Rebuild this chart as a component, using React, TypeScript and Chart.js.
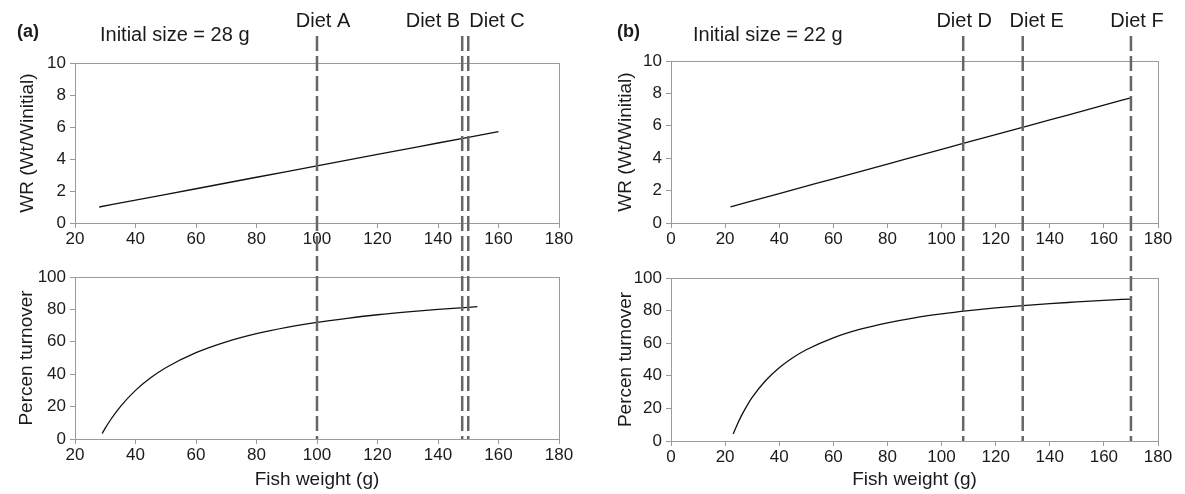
import React, { useEffect, useRef } from "react";
import { Chart, registerables } from "chart.js";

Chart.register(...registerables);

// ---------- data ----------
// Panel (a): initial size 28 g
const aWrWeights = [28, 40, 60, 80, 100, 120, 140, 160];
const aWrValues = [1.0, 1.43, 2.14, 2.86, 3.57, 4.29, 5.0, 5.71];
const aTurnWeights = [29, 30, 32, 35, 40, 45, 50, 60, 70, 80, 90, 100, 110, 120, 130, 140, 150, 153];
const aTurnValues = [3.4, 6.7, 12.5, 20, 30, 37.8, 44, 53.3, 60, 65, 68.9, 72, 74.5, 76.7, 78.5, 80, 81.3, 81.7];
const aDietLabels = ["Diet A", "Diet B", "Diet C"];
const aDietWeights = [100, 148, 150];

// Panel (b): initial size 22 g
const bWrWeights = [22, 40, 60, 80, 100, 120, 140, 160, 170];
const bWrValues = [1.0, 1.82, 2.73, 3.64, 4.55, 5.45, 6.36, 7.27, 7.73];
const bTurnWeights = [23, 24, 26, 28, 30, 35, 40, 45, 50, 60, 70, 80, 90, 100, 110, 120, 130, 140, 150, 160, 170];
const bTurnValues = [4.3, 8.3, 15.4, 21.4, 26.7, 37.1, 45, 51.1, 56, 63.3, 68.6, 72.5, 75.6, 78, 80, 81.7, 83.1, 84.3, 85.3, 86.3, 87.1];
const bDietLabels = ["Diet D", "Diet E", "Diet F"];
const bDietWeights = [108, 130, 170];

// x axis ranges / y ticks
const aXRange = [20, 180];
const bXRange = [0, 180];
const wrRange = [0, 10, 2];
const turnRange = [0, 100, 20];

// ---------- styling / layout (not data) ----------
const FONT = '"Liberation Sans", Arial, sans-serif';
const TEXT = "#1a1a1a";
const AXIS = "#9a9a9a";
const DASH = "#666666";
const DASH_PATTERN = [15, 5];
const DASH_TOP = 36;
const TICK_SIZE = 17;
const TITLE_SIZE = 19;
const NOTE_SIZE = 20;

const aDietAlign: CanvasTextAlign[] = ["center", "right", "left"];
const aDietShift = [6, -2, 1];
const bDietAlign: CanvasTextAlign[] = ["center", "center", "center"];
const bDietShift = [1, 14, 6];

type PanelOpts = {
  weights: number[];
  values: number[];
  xRange: number[];
  yRange: number[];
  yTitle: string;
  xTitle?: string;
  dietWeights: number[];
  dietLabels?: string[];
  dietAlign?: CanvasTextAlign[];
  dietShift?: number[];
  letter?: string;
  letterX?: number;
  initText?: string;
  initX?: number;
  isTop: boolean;
  yAxisWidth: number;
  xAxisHeight: number;
  padTop: number;
  padRight: number;
  yTitlePad: number;
};

function makeConfig(o: PanelOpts): any {
  const overlay = {
    id: "overlay",
    afterDatasetsDraw(chart: any) {
      const ctx = chart.ctx;
      const ca = chart.chartArea;
      const xs = chart.scales.x;
      ctx.save();
      // box
      ctx.strokeStyle = AXIS;
      ctx.lineWidth = 1;
      ctx.strokeRect(Math.round(ca.left) + 0.5, Math.round(ca.top) + 0.5, Math.round(ca.right - ca.left), Math.round(ca.bottom - ca.top));
      // dashed diet lines
      ctx.strokeStyle = DASH;
      ctx.lineWidth = 2.5;
      ctx.setLineDash(DASH_PATTERN);
      const period = DASH_PATTERN[0] + DASH_PATTERN[1];
      o.dietWeights.forEach((w) => {
        const px = xs.getPixelForValue(w);
        ctx.beginPath();
        if (o.isTop) {
          ctx.lineDashOffset = 0;
          ctx.moveTo(px, DASH_TOP);
          ctx.lineTo(px, chart.height);
        } else {
          ctx.lineDashOffset = (250 - DASH_TOP) % period;
          ctx.moveTo(px, 0);
          ctx.lineTo(px, ca.bottom);
        }
        ctx.stroke();
      });
      ctx.setLineDash([]);
      if (o.isTop) {
        ctx.fillStyle = TEXT;
        ctx.textBaseline = "middle";
        ctx.font = `bold 18px ${FONT}`;
        ctx.textAlign = "left";
        ctx.fillText(o.letter || "", o.letterX || 0, 32);
        ctx.font = `${NOTE_SIZE}px ${FONT}`;
        ctx.fillText(o.initText || "", o.initX || 0, 35);
        (o.dietLabels || []).forEach((lab, i) => {
          const px = xs.getPixelForValue(o.dietWeights[i]);
          ctx.textAlign = (o.dietAlign || [])[i] || "center";
          ctx.fillText(lab, px + ((o.dietShift || [])[i] || 0), 21);
        });
      }
      ctx.restore();
    },
  };

  return {
    type: "line",
    data: {
      datasets: [
        {
          data: o.weights.map((w, i) => ({ x: w, y: o.values[i] })),
          borderColor: "#111",
          borderWidth: 1.3,
          pointRadius: 0,
          fill: false,
          cubicInterpolationMode: "monotone",
        },
      ],
    },
    options: {
      responsive: false,
      animation: false,
      devicePixelRatio: 1,
      layout: { padding: { left: 0, right: o.padRight, top: o.padTop, bottom: 0 } },
      plugins: { legend: { display: false }, tooltip: { enabled: false } },
      scales: {
        x: {
          type: "linear",
          min: o.xRange[0],
          max: o.xRange[1],
          afterFit: (s: any) => {
            s.height = o.xAxisHeight;
          },
          ticks: {
            stepSize: 20,
            autoSkip: false,
            maxRotation: 0,
            color: TEXT,
            padding: 1,
            font: { family: FONT, size: TICK_SIZE },
          },
          grid: { drawOnChartArea: false, drawTicks: true, tickLength: 5, color: AXIS },
          border: { display: true, color: AXIS },
          title: o.xTitle
            ? { display: true, text: o.xTitle, color: TEXT, font: { family: FONT, size: TITLE_SIZE }, padding: { top: 0, bottom: 3 } }
            : { display: false },
        },
        y: {
          type: "linear",
          min: o.yRange[0],
          max: o.yRange[1],
          afterFit: (s: any) => {
            s.width = o.yAxisWidth;
          },
          ticks: {
            stepSize: o.yRange[2],
            color: TEXT,
            padding: 4,
            font: { family: FONT, size: TICK_SIZE },
          },
          grid: { drawOnChartArea: false, drawTicks: true, tickLength: 5, color: AXIS },
          border: { display: true, color: AXIS },
          title: {
            display: true,
            text: o.yTitle,
            color: TEXT,
            font: { family: FONT, size: TITLE_SIZE },
            padding: { top: o.yTitlePad, bottom: 0 },
          },
        },
      },
    },
    plugins: [overlay],
  };
}

function ChartBox(props: { left: number; top: number; width: number; height: number; opts: PanelOpts }) {
  const ref = useRef<HTMLCanvasElement | null>(null);
  useEffect(() => {
    if (!ref.current) return;
    const chart = new Chart(ref.current, makeConfig(props.opts));
    return () => chart.destroy();
  }, []);
  return (
    <canvas
      ref={ref}
      width={props.width}
      height={props.height}
      style={{ position: "absolute", left: props.left, top: props.top, width: props.width, height: props.height }}
    />
  );
}

export default function App() {
  const topH = 250;
  const botH = 244;
  const lw = 585;
  const rw = 600;
  return (
    <div style={{ position: "absolute", left: 0, top: 0, width: 1185, height: 494, background: "#fff" }}>
      <ChartBox
        left={0}
        top={0}
        width={lw}
        height={topH}
        opts={{
          weights: aWrWeights,
          values: aWrValues,
          xRange: aXRange,
          yRange: wrRange,
          yTitle: "WR (Wt/Winitial)",
          dietWeights: aDietWeights,
          dietLabels: aDietLabels,
          dietAlign: aDietAlign,
          dietShift: aDietShift,
          letter: "(a)",
          letterX: 17,
          initText: "Initial size = 28 g",
          initX: 100,
          isTop: true,
          yAxisWidth: 75,
          xAxisHeight: topH - 223,
          padTop: 63,
          padRight: lw - 559,
          yTitlePad: 16,
        }}
      />
      <ChartBox
        left={0}
        top={topH}
        width={lw}
        height={botH}
        opts={{
          weights: aTurnWeights,
          values: aTurnValues,
          xRange: aXRange,
          yRange: turnRange,
          yTitle: "Percen turnover",
          xTitle: "Fish weight (g)",
          dietWeights: aDietWeights,
          isTop: false,
          yAxisWidth: 75,
          xAxisHeight: 494 - 439,
          padTop: 277 - topH,
          padRight: lw - 559,
          yTitlePad: 15,
        }}
      />
      <ChartBox
        left={lw}
        top={0}
        width={rw}
        height={topH}
        opts={{
          weights: bWrWeights,
          values: bWrValues,
          xRange: bXRange,
          yRange: wrRange,
          yTitle: "WR (Wt/Winitial)",
          dietWeights: bDietWeights,
          dietLabels: bDietLabels,
          dietAlign: bDietAlign,
          dietShift: bDietShift,
          letter: "(b)",
          letterX: 617 - lw,
          initText: "Initial size = 22 g",
          initX: 693 - lw,
          isTop: true,
          yAxisWidth: 671 - lw,
          xAxisHeight: topH - 223,
          padTop: 61,
          padRight: 1185 - 1158,
          yTitlePad: 29,
        }}
      />
      <ChartBox
        left={lw}
        top={topH}
        width={rw}
        height={botH}
        opts={{
          weights: bTurnWeights,
          values: bTurnValues,
          xRange: bXRange,
          yRange: turnRange,
          yTitle: "Percen turnover",
          xTitle: "Fish weight (g)",
          dietWeights: bDietWeights,
          isTop: false,
          yAxisWidth: 671 - lw,
          xAxisHeight: 494 - 441,
          padTop: 278 - topH,
          padRight: 1185 - 1158,
          yTitlePad: 29,
        }}
      />
    </div>
  );
}
